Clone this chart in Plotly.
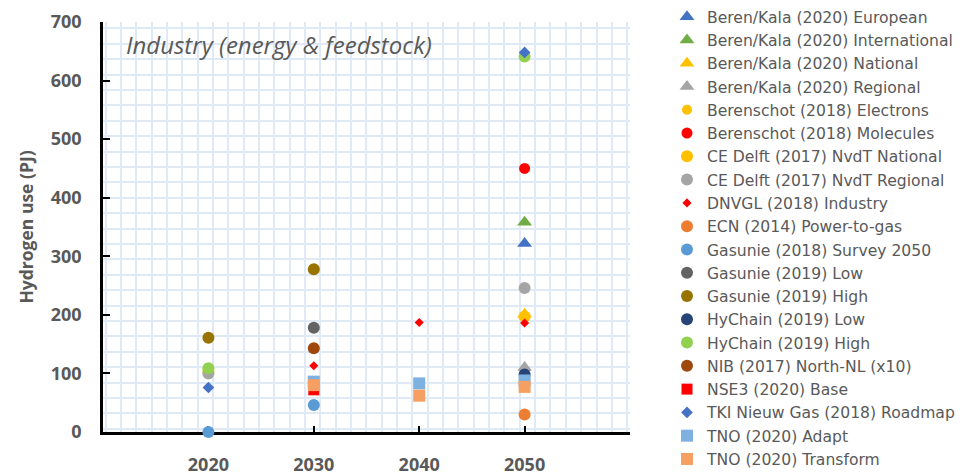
import numpy as np
import plotly.graph_objects as go

# Study years on the x axis
YEARS = [2020, 2030, 2040, 2050]

# Hydrogen use in industry (PJ) per study/scenario, aligned with YEARS (None = no value)
beren_kala_european = [None, None, None, 322]
beren_kala_international = [None, None, None, 358]
beren_kala_national = [None, None, None, 201]
beren_kala_regional = [None, None, None, 110]
berenschot_electrons = [None, None, None, 196]
berenschot_molecules = [None, None, None, 450]
ce_delft_national = [103, None, None, 197]
ce_delft_regional = [100, None, None, 246]
dnvgl_industry = [None, 113, 187, 186]
ecn_power_to_gas = [None, None, None, 30]
gasunie_2018_survey = [0, 46, None, None]
gasunie_2019_low = [None, 178, None, None]
gasunie_2019_high = [161, 278, None, None]
hychain_low = [None, None, None, 98]
hychain_high = [109, None, None, 641]
nib_north_nl = [None, 143, None, None]
nse3_base = [None, 72, None, None]
tki_roadmap = [76, None, None, 648]
tno_adapt = [None, 86, 83, 88]
tno_transform = [None, 80, 62, 77]

Y_TICKS = [0, 100, 200, 300, 400, 500, 600, 700]
X_TICK_LABELS = ["2020", "2030", "2040", "2050"]

# (legend name, values, symbol, colour, size)
series = [
    ("Beren/Kala (2020) European", beren_kala_european, "triangle-up", "#4472C4", 13),
    ("Beren/Kala (2020) International", beren_kala_international, "triangle-up", "#70AD47", 13),
    ("Beren/Kala (2020) National", beren_kala_national, "triangle-up", "#FFC000", 13),
    ("Beren/Kala (2020) Regional", beren_kala_regional, "triangle-up", "#A5A5A5", 13),
    ("Berenschot (2018) Electrons", berenschot_electrons, "circle", "#FFC000", 10),
    ("Berenschot (2018) Molecules", berenschot_molecules, "circle", "#FF0000", 11),
    ("CE Delft (2017) NvdT National", ce_delft_national, "circle", "#FFC000", 12),
    ("CE Delft (2017) NvdT Regional", ce_delft_regional, "circle", "#A5A5A5", 12),
    ("DNVGL (2018) Industry", dnvgl_industry, "diamond", "#FF0000", 7),
    ("ECN (2014) Power-to-gas", ecn_power_to_gas, "circle", "#ED7D31", 12),
    ("Gasunie (2018) Survey 2050", gasunie_2018_survey, "circle", "#5B9BD5", 12),
    ("Gasunie (2019) Low", gasunie_2019_low, "circle", "#636363", 12),
    ("Gasunie (2019) High", gasunie_2019_high, "circle", "#997300", 12),
    ("HyChain (2019) Low", hychain_low, "circle", "#264478", 12),
    ("HyChain (2019) High", hychain_high, "circle", "#92D050", 12),
    ("NIB (2017) North-NL (x10)", nib_north_nl, "circle", "#9E480E", 12),
    ("NSE3 (2020) Base", nse3_base, "square", "#FF0000", 11),
    ("TKI Nieuw Gas (2018) Roadmap", tki_roadmap, "diamond", "#4472C4", 9),
    ("TNO (2020) Adapt", tno_adapt, "square", "#7EB0E0", 12),
    ("TNO (2020) Transform", tno_transform, "square", "#F5A062", 12),
]

GREY = "#595959"

fig = go.Figure()
for name, values, symbol, color, size in series:
    xs = [yr for yr, v in zip(YEARS, values) if v is not None]
    ys = [v for v in values if v is not None]
    fig.add_trace(go.Scatter(
        x=xs, y=ys, name=name, mode="markers",
        marker=dict(symbol=symbol, color=color, size=size, line=dict(width=0)),
        cliponaxis=False,
    ))

# light-blue squared "graph paper" background
grid_x = list(np.arange(2010.25, 2060.0, 1.4554))
grid_y = list(np.arange(5.6, 700.0, 26.29))

fig.update_layout(
    width=969, height=475,
    margin=dict(l=103, r=339, t=22, b=43),
    plot_bgcolor="white", paper_bgcolor="white",
    font=dict(family="Open Sans", color=GREY),
    showlegend=True,
    legend=dict(
        xref="container", yref="container",
        x=667 / 969, y=1.0, xanchor="left", yanchor="top",
        font=dict(family="DejaVu Sans", size=15.6, color=GREY),
        bgcolor="rgba(0,0,0,0)", tracegroupgap=0, maxheight=1000,
    ),
    xaxis=dict(
        range=[2010, 2060], tickmode="array", tickvals=YEARS, ticktext=X_TICK_LABELS,
        showgrid=False, zeroline=False, automargin=False, layer="below traces",
        showline=True, linecolor="black", linewidth=2.5,
        ticks="inside", ticklen=6, tickwidth=2, tickcolor="black",
        tickfont=dict(family="Open Sans", size=18, color=GREY, weight="bold"),
        ticklabelstandoff=15,
        minor=dict(tickmode="array", tickvals=grid_x, showgrid=True,
                   gridcolor="#E0EAF6", gridwidth=1.6, ticks=""),
    ),
    yaxis=dict(
        range=[0, 700], tickmode="array", tickvals=Y_TICKS,
        showgrid=False, zeroline=False, automargin=False, layer="below traces",
        showline=True, linecolor="black", linewidth=2.5,
        ticks="inside", ticklen=7, tickwidth=2, tickcolor="black",
        tickfont=dict(family="Open Sans", size=18, color=GREY, weight="bold"),
        ticklabelstandoff=15,
        title=dict(text="Hydrogen use (PJ)", standoff=13,
                   font=dict(family="Open Sans", size=17.5, color=GREY, weight="bold")),
        minor=dict(tickmode="array", tickvals=grid_y, showgrid=True,
                   gridcolor="#E0EAF6", gridwidth=1.6, ticks=""),
    ),
    annotations=[dict(
        text="<i>Industry (energy &amp; feedstock)</i>",
        xref="paper", yref="paper", x=0.04, y=0.945, xanchor="left", yanchor="middle",
        showarrow=False, font=dict(family="Open Sans", size=24, color=GREY),
    )],
)

fig.write_html("out.html")
